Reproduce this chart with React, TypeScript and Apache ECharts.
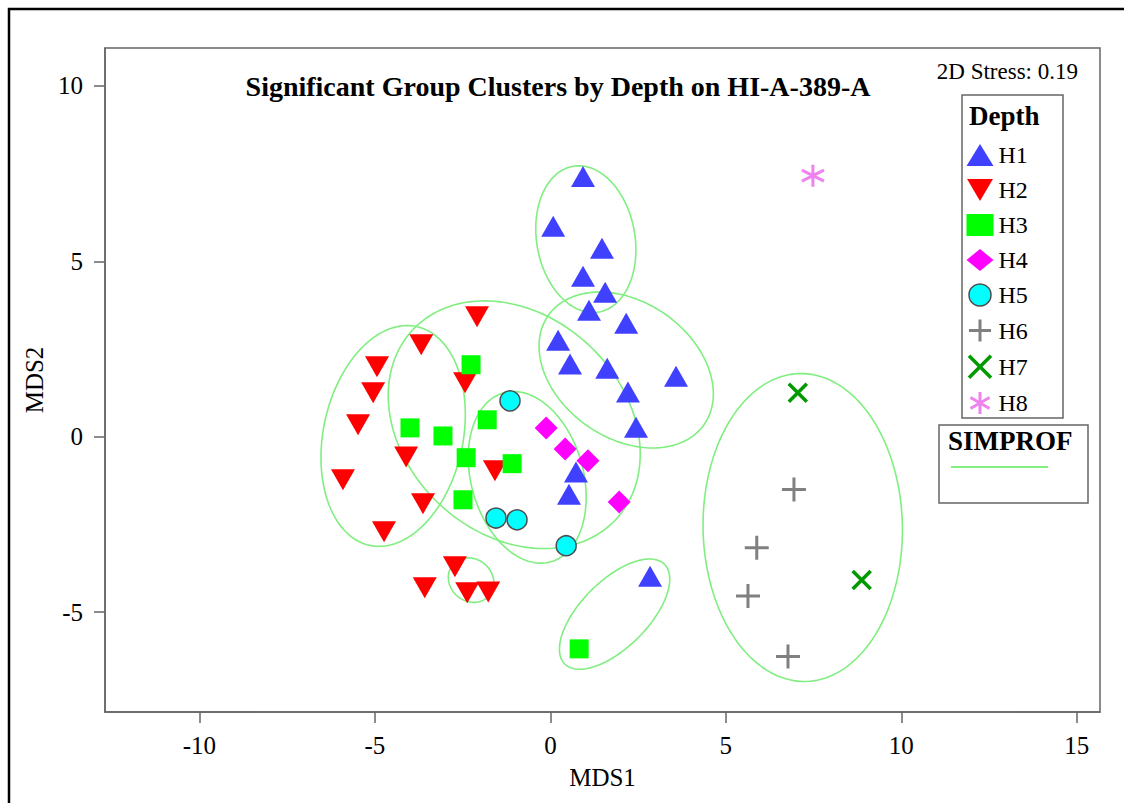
import React, { useEffect, useRef } from 'react';
import * as echarts from 'echarts';

const chartTitle = 'Significant Group Clusters by Depth on HI-A-389-A';
const stressLabel = '2D Stress: 0.19';
const xAxisName = 'MDS1';
const yAxisName = 'MDS2';
const xTicks = [-10, -5, 0, 5, 10, 15];
const yTicks = [-5, 0, 5, 10];

const groupNames = ['H1', 'H2', 'H3', 'H4', 'H5', 'H6', 'H7', 'H8'];

const h1 = [[0.93, 7.42], [0.08, 6.0], [1.47, 5.37], [0.93, 4.57], [1.56, 4.12], [1.1, 3.6], [0.22, 2.75], [2.16, 3.23], [0.56, 2.07], [1.62, 1.95], [3.58, 1.72], [2.21, 1.27], [2.44, 0.27], [0.73, -1.01], [0.53, -1.64], [2.84, -3.98]];
const h2 = [[-2.09, 3.42], [-3.68, 2.62], [-4.94, 1.99], [-5.05, 1.25], [-5.48, 0.34], [-2.43, 1.54], [-4.11, -0.58], [-5.91, -1.23], [-1.58, -0.97], [-3.63, -1.91], [-4.74, -2.71], [-2.72, -3.71], [-3.58, -4.31], [-2.37, -4.45], [-1.77, -4.43]];
const h3 = [[-2.26, 2.05], [-4.0, 0.25], [-3.06, 0.02], [-1.8, 0.48], [-2.4, -0.6], [-1.09, -0.77], [-2.49, -1.8], [0.82, -6.05]];
const h4 = [[-0.12, 0.25], [0.42, -0.35], [1.07, -0.69], [1.96, -1.86]];
const h5 = [[-1.15, 1.02], [-1.55, -2.32], [-0.95, -2.37], [0.45, -3.11]];
const h6 = [[6.94, -1.51], [5.88, -3.17], [5.63, -4.54], [6.77, -6.27]];
const h7 = [[7.05, 1.25], [8.87, -4.09]];
const h8 = [[7.48, 7.44]];

// SIMPROF cluster outlines: centre x, centre y, semi-axis a, semi-axis b, angle of a (degrees)
const clusterCx = [1.01, 2.16, -1.03, -4.48, -0.66, -2.26, 1.83, 7.19];
const clusterCy = [5.63, 1.9, 0.34, 0.02, -1.16, -4.09, -5.06, -2.59];
const clusterA = [2.11, 2.71, 3.96, 3.19, 2.5, 0.68, 2.01, 4.39];
const clusterB = [1.4, 1.94, 3.11, 1.99, 1.6, 0.6, 0.95, 2.84];
const clusterAngle = [100, -35, -43, 78, 105.5, -40, 45, 91];

const FONT = '"Liberation Serif", "Times New Roman", serif';
const AXIS_GRAY = '#666666';
const ELLIPSE_GREEN = '#80EE80';

const groupStyles = [
  { data: h1, symbol: 'triangle', size: [24, 21], color: '#4040FF', border: '#4040FF', bw: 0 },
  { data: h2, symbol: 'path://M0,0L20,0L10,17Z', size: [24, 21], color: '#FF0000', border: '#FF0000', bw: 0 },
  { data: h3, symbol: 'rect', size: 19, color: '#00FF00', border: '#00FF00', bw: 0 },
  { data: h4, symbol: 'diamond', size: 23, color: '#FF00FF', border: '#FF00FF', bw: 0 },
  { data: h5, symbol: 'circle', size: 20, color: '#00FFFF', border: '#4D4D4D', bw: 1.5 },
  { data: h6, symbol: 'path://M0,10L20,10M10,0L10,20', size: 24, color: '#808080', border: '#808080', bw: 3 },
  { data: h7, symbol: 'path://M0,0L20,20M0,20L20,0', size: 18, color: '#009A00', border: '#009A00', bw: 3.5 },
  { data: h8, symbol: 'path://M10,0L10,20M1.34,5L18.66,15M1.34,15L18.66,5', size: 22, color: '#EE82EE', border: '#EE82EE', bw: 3 },
];

export default function App() {
  const ref = useRef<HTMLDivElement>(null);

  useEffect(() => {
    if (!ref.current) return;
    const chart = echarts.init(ref.current, null, { renderer: 'svg' });

    const clusters = clusterCx.map((cx, i) => [cx, clusterCy[i], clusterA[i], clusterB[i], clusterAngle[i]]);

    const scatterSeries = groupStyles.map((g, i) => ({
      type: 'scatter',
      name: groupNames[i],
      data: g.data,
      symbol: g.symbol,
      symbolSize: g.size,
      z: 3,
      itemStyle: { color: g.color, borderColor: g.border, borderWidth: g.bw, opacity: 1 },
    }));

    const option: any = {
      animation: false,
      backgroundColor: '#ffffff',
      grid: {
        left: 105,
        top: 48,
        width: 995,
        height: 664,
        show: true,
        borderColor: AXIS_GRAY,
        borderWidth: 1.5,
        containLabel: false,
        outerBoundsMode: 'none',
      },
      xAxis: {
        type: 'value',
        min: -12.69,
        max: 15.66,
        splitLine: { show: false },
        axisLine: { show: true, onZero: false, lineStyle: { color: AXIS_GRAY, width: 1.5 } },
        axisTick: { show: true, inside: false, length: 11, customValues: xTicks, lineStyle: { color: AXIS_GRAY, width: 1.5 } },
        axisLabel: { customValues: xTicks, fontSize: 25, fontFamily: FONT, color: '#000', margin: 21 },
        name: xAxisName,
        nameLocation: 'middle',
        nameGap: 53,
        nameTextStyle: { fontSize: 25, fontFamily: FONT, color: '#000' },
      },
      yAxis: {
        type: 'value',
        min: -7.85,
        max: 11.08,
        splitLine: { show: false },
        axisLine: { show: true, onZero: false, lineStyle: { color: AXIS_GRAY, width: 1.5 } },
        axisTick: { show: true, inside: false, length: 11, customValues: yTicks, lineStyle: { color: AXIS_GRAY, width: 1.5 } },
        axisLabel: { customValues: yTicks, fontSize: 25, fontFamily: FONT, color: '#000', margin: 22 },
        name: yAxisName,
        nameLocation: 'middle',
        nameGap: 58,
        nameTextStyle: { fontSize: 25, fontFamily: FONT, color: '#000' },
      },
      legend: {
        orient: 'vertical',
        left: 966.5,
        top: 143,
        padding: 0,
        itemGap: 11,
        itemWidth: 27,
        itemHeight: 22,
        selectedMode: false,
        textStyle: { fontSize: 24, fontFamily: FONT, color: '#000', lineHeight: 24 },
        data: groupStyles.map((g, i) => ({
          name: groupNames[i],
          icon: g.symbol,
          itemStyle: { color: g.color, borderColor: g.border, borderWidth: g.bw },
        })),
      },
      graphic: [
        {
          type: 'rect',
          shape: { x: 9, y: 9, width: 1400, height: 1000 },
          style: { fill: 'none', stroke: '#000', lineWidth: 2.5 },
          silent: true,
        },
        {
          type: 'text',
          x: 558,
          y: 86,
          style: {
            text: chartTitle,
            font: `bold 28px ${FONT}`,
            fill: '#000',
            align: 'center',
            verticalAlign: 'middle',
            textAlign: 'center',
            textVerticalAlign: 'middle',
          },
        },
        {
          type: 'text',
          x: 1078,
          y: 71,
          style: {
            text: stressLabel,
            font: `23px ${FONT}`,
            fill: '#000',
            align: 'right',
            verticalAlign: 'middle',
            textAlign: 'right',
            textVerticalAlign: 'middle',
          },
        },
        {
          type: 'rect',
          shape: { x: 962, y: 95, width: 101, height: 323 },
          style: { fill: 'none', stroke: AXIS_GRAY, lineWidth: 1.5 },
        },
        {
          type: 'text',
          x: 969,
          y: 116,
          style: {
            text: 'Depth',
            font: `bold 27px ${FONT}`,
            fill: '#000',
            align: 'left',
            verticalAlign: 'middle',
            textAlign: 'left',
            textVerticalAlign: 'middle',
          },
        },
        {
          type: 'rect',
          shape: { x: 939, y: 425, width: 149, height: 78 },
          style: { fill: 'none', stroke: AXIS_GRAY, lineWidth: 1.5 },
        },
        {
          type: 'text',
          x: 948,
          y: 441,
          style: {
            text: 'SIMPROF',
            font: `bold 27px ${FONT}`,
            fill: '#000',
            align: 'left',
            verticalAlign: 'middle',
            textAlign: 'left',
            textVerticalAlign: 'middle',
          },
        },
        {
          type: 'line',
          shape: { x1: 951, y1: 467, x2: 1048, y2: 467 },
          style: { stroke: ELLIPSE_GREEN, lineWidth: 2 },
        },
      ],
      series: [
        {
          type: 'custom',
          name: 'SIMPROF',
          silent: true,
          z: 1,
          data: clusters,
          encode: { x: 0, y: 1 },
          renderItem: (params: any, api: any) => {
            const cx = api.value(0);
            const cy = api.value(1);
            const a = api.value(2);
            const b = api.value(3);
            const ang = (api.value(4) * Math.PI) / 180;
            const pts: number[][] = [];
            const n = 160;
            for (let k = 0; k < n; k++) {
              const t = (k / n) * Math.PI * 2;
              const dx = a * Math.cos(t);
              const dy = b * Math.sin(t);
              pts.push(api.coord([cx + dx * Math.cos(ang) - dy * Math.sin(ang), cy + dx * Math.sin(ang) + dy * Math.cos(ang)]));
            }
            return {
              type: 'polygon',
              shape: { points: pts },
              style: { fill: 'none', stroke: ELLIPSE_GREEN, lineWidth: 1.6 },
            };
          },
        },
        ...scatterSeries,
      ],
    };

    chart.setOption(option);
    return () => chart.dispose();
  }, []);

  return <div ref={ref} style={{ position: 'fixed', left: 0, top: 0, width: 1124, height: 803 }} />;
}
